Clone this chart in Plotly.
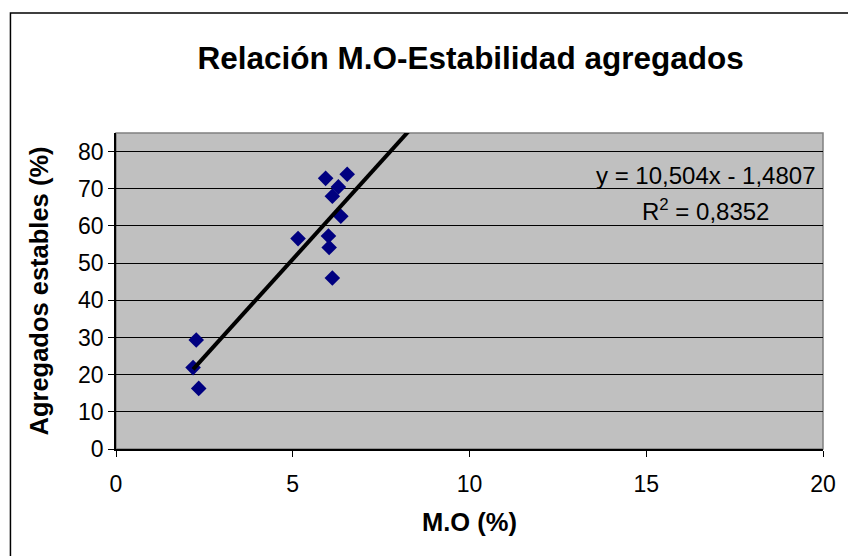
import plotly.graph_objects as go

mo = [2.27, 2.18, 2.34, 5.93, 6.54, 6.29, 6.12, 6.36, 5.15, 6.01, 6.03, 6.12]
agregados = [29.3, 21.9, 16.3, 72.8, 73.9, 70.5, 68.0, 62.6, 56.6, 57.3, 54.2, 46.0]
slope = 10.504
intercept = -1.4807
r2 = 0.8352
trend_x = [min(mo), 8.6]
trend_y = [slope * v + intercept for v in trend_x]
x_ticks = [0, 5, 10, 15, 20]
y_ticks = [0, 10, 20, 30, 40, 50, 60, 70, 80]

fig = go.Figure()
fig.add_trace(go.Scatter(x=mo, y=agregados, mode="markers",
                         marker=dict(symbol="diamond", size=12, color="#000080",
                                     line=dict(width=0)),
                         showlegend=False, cliponaxis=True))
fig.add_trace(go.Scatter(x=trend_x, y=trend_y, mode="lines",
                         line=dict(color="black", width=4),
                         showlegend=False))

font = "Liberation Sans, Arial, sans-serif"
fig.update_layout(
    width=848, height=556,
    margin=dict(l=116, r=22, t=133, b=107),
    paper_bgcolor="white", plot_bgcolor="#C0C0C0",
    font=dict(family=font, color="black", size=23),
    title=dict(text="<b>Relación M.O-Estabilidad agregados</b>",
               font=dict(size=31.5, family=font, color="black"),
               x=0.555, xanchor="center", y=1 - 58/556, yanchor="middle"),
    xaxis=dict(range=[0, 20], tickvals=x_ticks, showgrid=False, zeroline=False,
               showline=True, linecolor="black", linewidth=1.5,
               ticks="outside", ticklen=6, tickcolor="black",
               ticklabelstandoff=8,
               tickfont=dict(size=23),
               title=dict(text="<b>M.O (%)</b>", font=dict(size=25.5), standoff=17)),
    yaxis=dict(range=[0, 85], tickvals=y_ticks, showgrid=True, gridcolor="black",
               gridwidth=1, zeroline=False,
               showline=True, linecolor="black", linewidth=1.5,
               ticks="outside", ticklen=6, tickcolor="black",
               tickfont=dict(size=23),
               title=dict(text="<b>Agregados estables (%)</b>", font=dict(size=25.5), standoff=22)),
    shapes=[
        dict(type="rect", xref="paper", yref="paper", x0=0, x1=1, y0=0, y1=1,
             line=dict(color="#808080", width=1.5), layer="below"),
        dict(type="rect", xref="paper", yref="paper",
             x0=(10 - 116) / 710, x1=(860 - 116) / 710,
             y0=(449 - 570) / 316, y1=(449 - 13) / 316,
             line=dict(color="black", width=1.5)),
    ],
    annotations=[
        dict(x=16.68, y=73.7, xref="x", yref="y", showarrow=False,
             text="y = 10,504x - 1,4807", font=dict(size=24),
             xanchor="center", yanchor="middle"),
        dict(x=16.68, y=64.2, xref="x", yref="y", showarrow=False,
             text="R<sup>2</sup> = 0,8352", font=dict(size=24),
             xanchor="center", yanchor="middle"),
    ],
)
fig.write_html("out.html")
